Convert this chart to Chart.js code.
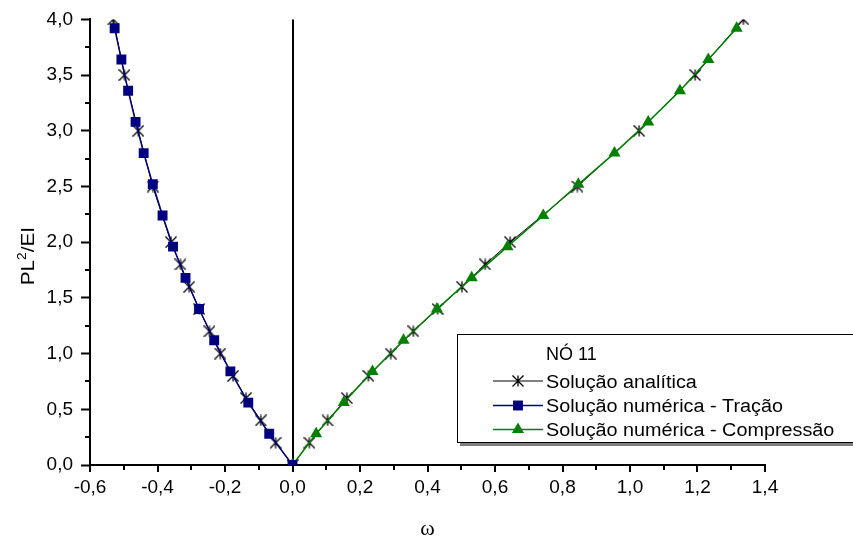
<!DOCTYPE html>
<html>
<head>
<meta charset="utf-8">
<script src="https://cdn.jsdelivr.net/npm/chart.js@4.4.1/dist/chart.umd.min.js"></script>
<style>
  html, body { margin: 0; padding: 0; background: #fff; }
  #grafico { display: block; }
</style>
</head>
<body>
<canvas id="grafico" width="853" height="542"></canvas>
<script>
// Solução analítica: ramo de tração (ω < 0), origem e ramo de compressão (ω > 0)
const omegaAnalitica = [-0.531, -0.498, -0.457, -0.414, -0.360, -0.332, -0.306, -0.276, -0.246, -0.214,
                        -0.176, -0.138, -0.094, -0.050, 0, 0.050, 0.104, 0.161, 0.225, 0.291,
                        0.358, 0.430, 0.502, 0.571, 0.645, 0.844, 1.027, 1.193, 1.336];
const cargaAnalitica = [4.0, 3.5, 3.0, 2.5, 2.0, 1.8, 1.6, 1.4, 1.2, 1.0,
                        0.8, 0.6, 0.4, 0.2, 0, 0.2, 0.4, 0.6, 0.8, 1.0,
                        1.2, 1.4, 1.6, 1.8, 2.0, 2.5, 3.0, 3.5, 4.0];

// Solução numérica - passos de carga
const cargaNumerica = [0, 0.28, 0.56, 0.84, 1.12, 1.40, 1.68, 1.96, 2.24, 2.52, 2.80, 3.08, 3.36, 3.64, 3.92];
const omegaTracao = [0, -0.069, -0.131, -0.184, -0.232, -0.277, -0.317, -0.354, -0.385, -0.414,
                     -0.441, -0.465, -0.487, -0.507, -0.527];
const omegaCompressao = [0, 0.070, 0.152, 0.237, 0.329, 0.428, 0.531, 0.637, 0.743, 0.847,
                         0.954, 1.054, 1.148, 1.232, 1.316];

// Eixos
const eixoX = { min: -0.6, max: 1.4, passo: 0.2, passoMenor: 0.1 };
const eixoY = { min: 0, max: 4.0, passo: 0.5, passoMenor: 0.25 };

const legendaTitulo = 'NÓ 11';
const nomes = ['Solução analítica', 'Solução numérica - Tração', 'Solução numérica - Compressão'];

const AZUL = '#000080';
const VERDE = '#008000';
const FONTE = '"Liberation Sans", Arial, sans-serif';

function pares(xs, ys) {
    return xs.map((x, i) => ({ x: x, y: ys[i] }));
}

function virgula(v) {
    const r = Math.round(v * 10) / 10;
    return (r === 0 ? 0 : r).toFixed(1).replace('.', ',');
}

// asterisco (| e X) usado como marcador da solução analítica
function criaAsterisco(tam, cor) {
    const c = document.createElement('canvas');
    c.width = tam;
    c.height = tam;
    const g = c.getContext('2d');
    const m = tam / 2;
    const r = tam / 2 - 0.5;
    g.strokeStyle = cor;
    g.lineWidth = 1.3;
    g.beginPath();
    g.moveTo(m, m - r); g.lineTo(m, m + r);
    g.moveTo(m - r, m - r); g.lineTo(m + r, m + r);
    g.moveTo(m + r, m - r); g.lineTo(m - r, m + r);
    g.stroke();
    return c;
}
const asterisco = criaAsterisco(12, '#000');

// ticks menores sem rótulo
const ticksMenores = {
    id: 'ticksMenores',
    afterDraw(chart) {
        const ctx = chart.ctx;
        const sx = chart.scales.x, sy = chart.scales.y;
        const area = chart.chartArea;
        ctx.save();
        ctx.strokeStyle = '#000';
        ctx.lineWidth = 2;
        ctx.beginPath();
        for (let v = eixoX.min + eixoX.passoMenor; v < eixoX.max; v += eixoX.passo) {
            const px = Math.round(sx.getPixelForValue(v));
            ctx.moveTo(px, area.bottom);
            ctx.lineTo(px, area.bottom + 5);
        }
        for (let v = eixoY.min + eixoY.passoMenor; v < eixoY.max; v += eixoY.passo) {
            const py = Math.round(sy.getPixelForValue(v));
            ctx.moveTo(area.left, py);
            ctx.lineTo(area.left - 5, py);
        }
        ctx.stroke();
        ctx.restore();
    }
};

// título do eixo y com expoente
const tituloY = {
    id: 'tituloY',
    afterDraw(chart) {
        const ctx = chart.ctx;
        const meio = (chart.chartArea.top + chart.chartArea.bottom) / 2 + 14;
        ctx.save();
        ctx.fillStyle = '#000';
        ctx.textBaseline = 'alphabetic';
        ctx.font = '18px ' + FONTE;
        const wPL = ctx.measureText('PL').width;
        const wEI = ctx.measureText('/EI').width;
        ctx.font = '12px ' + FONTE;
        const w2 = ctx.measureText('2').width;
        const total = wPL + w2 + wEI;
        ctx.translate(34, meio);
        ctx.rotate(-Math.PI / 2);
        ctx.scale(1.15, 1);
        ctx.translate(-total / 2, 0);
        ctx.font = '18px ' + FONTE;
        ctx.fillText('PL', 0, 0);
        ctx.font = '12px ' + FONTE;
        ctx.fillText('2', wPL, -8);
        ctx.font = '18px ' + FONTE;
        ctx.fillText('/EI', wPL + w2, 0);
        ctx.restore();
    }
};

// caixa de legenda sobre a área do gráfico
const legendaNo = {
    id: 'legendaNo',
    afterDraw(chart) {
        const ctx = chart.ctx;
        const bx = 457, by = 334, bw = 430, bh = 109;
        ctx.save();
        ctx.fillStyle = '#7f7f7f';
        ctx.fillRect(bx + 3, by + 3, bw, bh);
        ctx.fillStyle = '#fff';
        ctx.fillRect(bx, by, bw, bh);
        ctx.strokeStyle = '#000';
        ctx.lineWidth = 1;
        ctx.strokeRect(bx + 0.5, by + 0.5, bw, bh - 1);

        ctx.fillStyle = '#000';
        ctx.textBaseline = 'alphabetic';
        ctx.font = '18px ' + FONTE;
        ctx.fillText(legendaTitulo, 546, 360);

        const conjuntos = [chart.data.datasets[2], chart.data.datasets[0], chart.data.datasets[1]];
        const linhasY = [381, 405.5, 429.5];
        conjuntos.forEach((ds, i) => {
            const y = linhasY[i];
            ctx.strokeStyle = ds.borderColor;
            ctx.lineWidth = ds.borderWidth;
            ctx.beginPath();
            ctx.moveTo(493, y);
            ctx.lineTo(543, y);
            ctx.stroke();
            ctx.fillStyle = ds.pointBackgroundColor;
            ctx.strokeStyle = ds.pointBorderColor;
            Chart.helpers.drawPoint(ctx, {
                pointStyle: ds.pointStyle,
                radius: ds.pointRadius,
                rotation: 0,
                borderWidth: ds.pointBorderWidth
            }, 518, y);
            ctx.save();
            ctx.fillStyle = '#000';
            ctx.font = '18px ' + FONTE;
            ctx.translate(546, y + 6.5);
            ctx.scale(1.1, 1);
            ctx.fillText(nomes[i], 0, 0);
            ctx.restore();
        });
        ctx.restore();
    }
};

new Chart(document.getElementById('grafico'), {
    type: 'scatter',
    data: {
        datasets: [{
            label: nomes[1],
            data: pares(omegaTracao, cargaNumerica),
            showLine: true,
            borderColor: AZUL,
            borderWidth: 1.5,
            pointStyle: 'rect',
            pointRadius: 7,
            pointBackgroundColor: AZUL,
            pointBorderColor: AZUL,
            pointBorderWidth: 0
        }, {
            label: nomes[2],
            data: pares(omegaCompressao, cargaNumerica),
            showLine: true,
            borderColor: VERDE,
            borderWidth: 1.5,
            pointStyle: 'triangle',
            pointRadius: 7,
            pointBackgroundColor: VERDE,
            pointBorderColor: VERDE,
            pointBorderWidth: 0
        }, {
            label: nomes[0],
            data: pares(omegaAnalitica, cargaAnalitica),
            showLine: true,
            borderColor: '#000',
            borderWidth: 1,
            pointStyle: asterisco,
            pointRadius: 6,
            pointBackgroundColor: '#000',
            pointBorderColor: '#000',
            pointBorderWidth: 1
        }]
    },
    options: {
        responsive: false,
        animation: false,
        events: [],
        layout: {
            padding: { left: 0, right: 88, top: 18, bottom: 0 }
        },
        plugins: {
            legend: { display: false },
            tooltip: { enabled: false }
        },
        scales: {
            x: {
                type: 'linear',
                min: eixoX.min,
                max: eixoX.max,
                afterFit: s => { s.height = 77; },
                border: { display: true, color: '#000', width: 2 },
                grid: {
                    drawOnChartArea: true,
                    color: c => (c.tick && Math.abs(c.tick.value) < 1e-9) ? '#000' : 'rgba(0,0,0,0)',
                    lineWidth: 2,
                    tickColor: '#000',
                    tickWidth: 2,
                    tickLength: 7
                },
                ticks: {
                    stepSize: eixoX.passo,
                    padding: 4,
                    color: '#000',
                    font: { family: FONTE, size: 19 },
                    maxRotation: 0,
                    callback: v => virgula(v)
                },
                title: {
                    display: true,
                    text: 'ω',
                    color: '#000',
                    font: { family: '"Liberation Serif", "Times New Roman", serif', size: 22 },
                    padding: { top: 0, bottom: 0 }
                }
            },
            y: {
                type: 'linear',
                min: eixoY.min,
                max: eixoY.max,
                afterFit: s => { s.width = 90; },
                border: { display: true, color: '#000', width: 2 },
                grid: {
                    drawOnChartArea: false,
                    tickColor: '#000',
                    tickWidth: 2,
                    tickLength: 9
                },
                ticks: {
                    stepSize: eixoY.passo,
                    padding: 8,
                    color: '#000',
                    font: { family: FONTE, size: 19 },
                    callback: v => virgula(v)
                }
            }
        }
    },
    plugins: [ticksMenores, tituloY, legendaNo]
});
</script>
</body>
</html>
